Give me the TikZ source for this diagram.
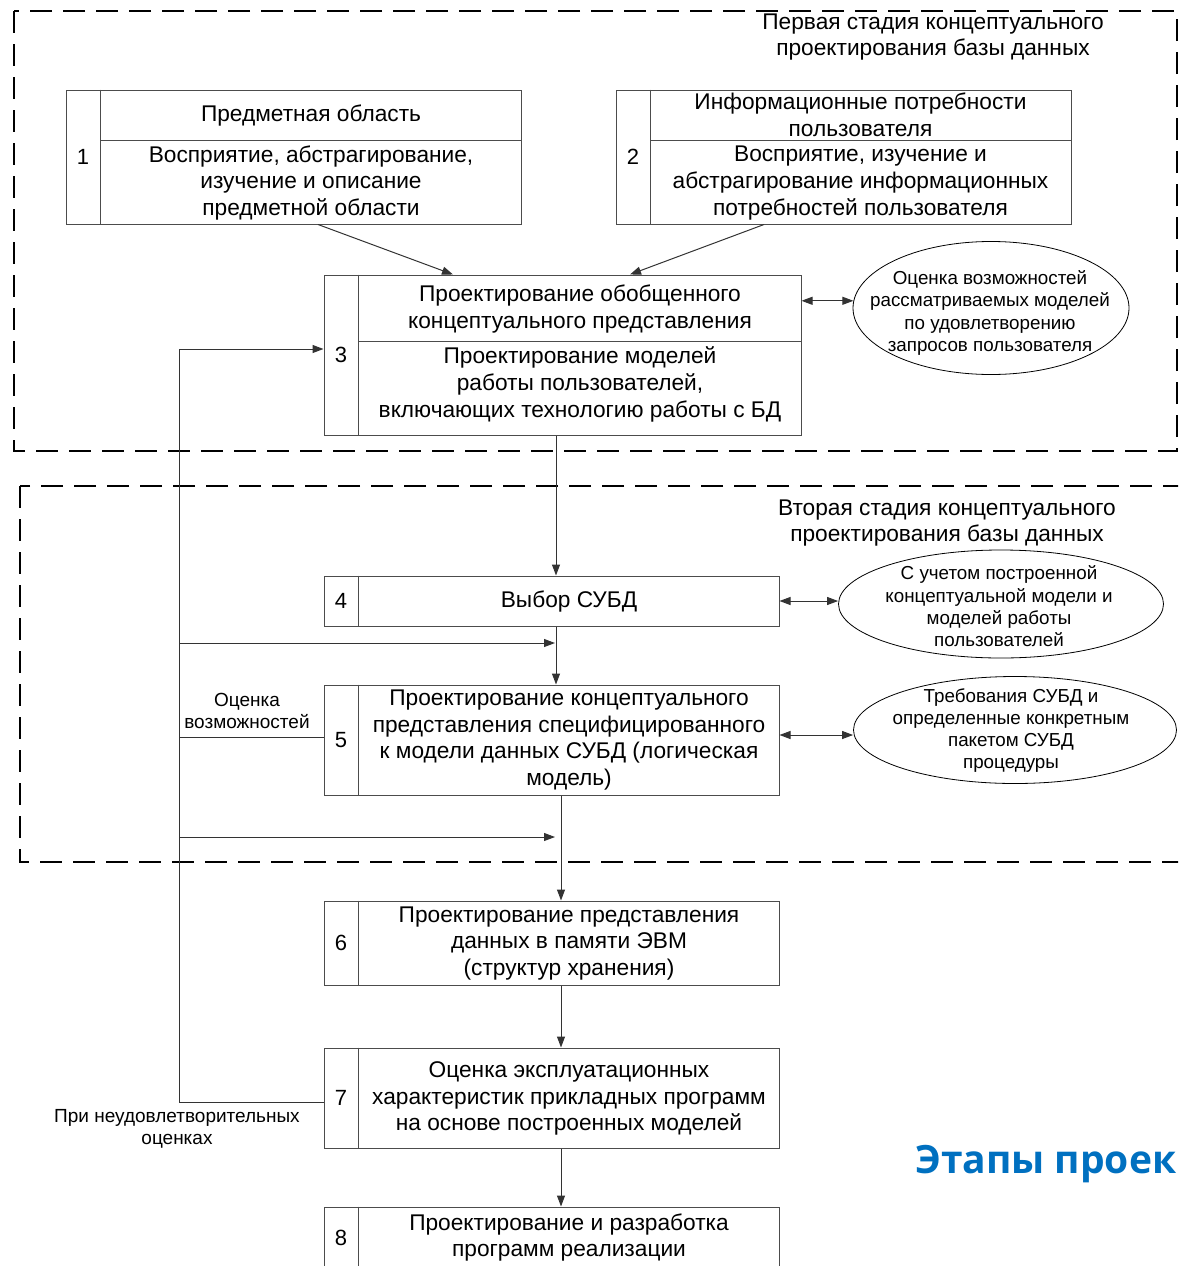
\documentclass[tikz,border=0pt]{standalone}
\usepackage{fontspec}
\setmainfont{Liberation Sans}
\newfontfamily\headfont{Open Sans}
\usetikzlibrary{arrows.meta,shapes.geometric}
\definecolor{titleblue}{RGB}{0,112,192}

\begin{document}
\begin{tikzpicture}[x=1pt,y=-1pt,
  stagebox/.style={draw=black!70, line width=1pt, inner sep=0, minimum width=455},
  divider/.style={draw=black!70, line width=1pt},
  boxtext/.style={align=center, inner sep=0, font=\fontsize{22.7}{26.6}\selectfont},
  numlabel/.style={inner sep=0, font=\fontsize{22}{26}\selectfont},
  note/.style={ellipse, draw, line width=0.8pt, inner sep=0},
  notetext/.style={align=center, inner sep=0, font=\fontsize{18.8}{22.3}\selectfont},
  sidelabel/.style={align=center, inner sep=0, font=\fontsize{19}{22}\selectfont},
  flow/.style={draw=black!80, line width=1pt, -{Triangle[length=11pt,width=8pt]}},
  twoway/.style={draw=black!80, line width=1pt,
    {Triangle[length=11pt,width=8pt]}-{Triangle[length=11pt,width=8pt]}},
  plainline/.style={draw=black!80, line width=1pt},
  stageframe/.style={draw, line width=2pt, dash pattern=on 22pt off 11pt}]

\useasboundingbox (0,0) rectangle (1178,1266);
\clip (0,0) rectangle (1178,1266);

% stage frames
\draw[stageframe] (14,11) rectangle (1177,451);
\draw[stageframe] (20,486) rectangle (1200,862);

\node[boxtext] (stage1) at (933,37) {Первая стадия концептуального\\проектирования базы данных};
\node[boxtext] (stage2) at (947,523) {Вторая стадия концептуального\\проектирования базы данных};

% box 1
\node[stagebox, minimum height=134] (b1) at (293.5,157) {};
\draw[divider] ([xshift=35]b1.north west) -- ([xshift=35]b1.south west);
\draw[divider] ([xshift=35,yshift=-51]b1.north west) -- ([yshift=-51]b1.north east);
\node[numlabel] (n1) at ([xshift=17.5]b1.west) {1};
\node[boxtext] (h1) at (311,116) {Предметная область};
\node[boxtext] (d1) at (311,183) {Восприятие, абстрагирование,\\изучение и описание\\предметной области};

% box 2
\node[stagebox, minimum height=134] (b2) at (843.5,157) {};
\draw[divider] ([xshift=35]b2.north west) -- ([xshift=35]b2.south west);
\draw[divider] ([xshift=35,yshift=-51]b2.north west) -- ([yshift=-51]b2.north east);
\node[numlabel] (n2) at ([xshift=17.5]b2.west) {2};
\node[boxtext] (h2) at (860.5,115) {Информационные потребности\\пользователя};
\node[boxtext] (d2) at (860.5,183) {Восприятие, изучение и\\абстрагирование информационных\\потребностей пользователя};

% box 3
\node[stagebox, minimum width=477, minimum height=160] (b3) at (562.5,355) {};
\draw[divider] ([xshift=35]b3.north west) -- ([xshift=35]b3.south west);
\draw[divider] ([xshift=35,yshift=-67]b3.north west) -- ([yshift=-67]b3.north east);
\node[numlabel] (n3) at ([xshift=17.5]b3.west) {3};
\node[boxtext] (h3) at (580,309) {Проектирование обобщенного\\концептуального представления};
\node[boxtext] (d3) at (580,384.5) {Проектирование моделей\\работы пользователей,\\включающих технологию работы с БД};

% boxes 4-8
\node[stagebox, minimum height=50] (b4) at (551.5,601) {};
\node[stagebox, minimum height=110] (b5) at (551.5,740) {};
\node[stagebox, minimum height=84] (b6) at (551.5,943) {};
\node[stagebox, minimum height=100] (b7) at (551.5,1098) {};
\node[stagebox, minimum height=93] (b8) at (551.5,1253.5) {};
\foreach \b/\n in {b4/4,b5/5,b6/6,b7/7} {
  \draw[divider] ([xshift=35]\b.north west) -- ([xshift=35]\b.south west);
  \node[numlabel] (n\n) at ([xshift=17.5]\b.west) {\n};
}
\draw[divider] ([xshift=35]b8.north west) -- ([xshift=35]b8.south west);
\node[numlabel] (n8) at ([xshift=17.5,yshift=15.5]b8.west) {8};

\node[boxtext] (d4) at (569,601.5) {Выбор СУБД};
\node[boxtext] (d5) at (569,740) {Проектирование концептуального\\представления специфицированного\\к модели данных СУБД (логическая\\модель)};
\node[boxtext] (d6) at (569,943.5) {Проектирование представления\\данных в памяти ЭВМ\\(структур хранения)};
\node[boxtext] (d7) at (569,1098.5) {Оценка эксплуатационных\\характеристик прикладных программ\\на основе построенных моделей};
\node[boxtext] (d8) at (569,1237.5) {Проектирование и разработка\\программ реализации};

% notes
\node[note, minimum width=276, minimum height=133] (e1) at (991,308) {};
\node[notetext] (t1) at (990,313) {Оценка возможностей\\рассматриваемых моделей\\по удовлетворению\\запросов пользователя};
\node[note, minimum width=325, minimum height=108] (e2) at (1001,604) {};
\node[notetext] (t2) at (999,606.5) {С учетом построенной\\концептуальной модели и\\моделей работы\\пользователей};
\node[note, minimum width=323, minimum height=107] (e3) at (1015,730) {};
\node[notetext] (t3) at (1011,730.5) {Требования СУБД и\\определенные конкретным\\пакетом СУБД\\процедуры};

% connectors
\draw[flow] ([xshift=24.5]b1.south) -- ([xshift=-109.5]b3.north);
\draw[flow] ([xshift=-79.5]b2.south) -- ([xshift=67.5]b3.north);
\draw[twoway] (b3.east |- e1.177) -- (e1.177);
\draw[twoway] (b4.east) -- (b4.east -| e2.west);
\draw[twoway] ([yshift=5]b5.east) -- ([yshift=5]b5.east -| e3.west);

\draw[flow] ([xshift=4.5]b4.north |- b3.south) -- ([xshift=4.5]b4.north);
\draw[flow] ([xshift=4.5]b4.south) -- ([xshift=4.5]b5.north);
\draw[flow] ([xshift=9.5]b5.south) -- ([xshift=9.5]b6.north);
\draw[flow] ([xshift=9.5]b6.south) -- ([xshift=9.5]b7.north);
\draw[flow] ([xshift=9.5]b7.south) -- ([xshift=9.5]b8.north);

% feedback loop
\coordinate (loop) at (179,349);
\coordinate (in5) at (555,643);
\coordinate (in6) at (555,837);
\coordinate (out5) at ([yshift=3]b5.west);
\draw[flow] ([yshift=-4]b7.west) -| (loop) -- (b3.west |- loop);
\draw[flow] (loop |- in5) -- (in5);
\draw[flow] (loop |- in6) -- (in6);
\draw[plainline] (out5) -- (loop |- out5);

\node[sidelabel] (l1) at (247,711) {Оценка\\возможностей};
\node[sidelabel] (l2) at (177,1129) {При неудовлетворительных\\оценках};

\node[anchor=base west, inner sep=0, text=titleblue, font=\headfont\bfseries\fontsize{39}{46}\selectfont] (ttl) at (915,1173) {Этапы проек};

\end{tikzpicture}
\end{document}
